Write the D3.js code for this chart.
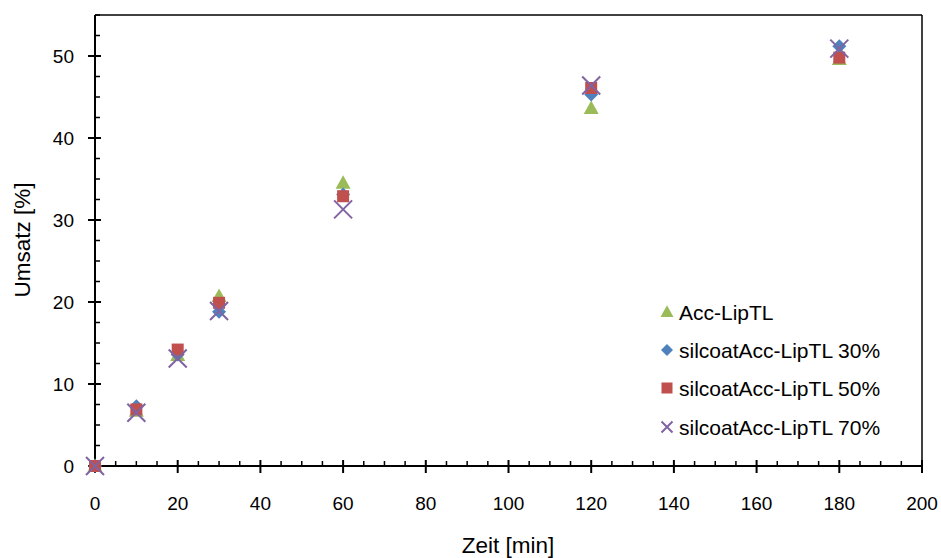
<!DOCTYPE html>
<html><head><meta charset="utf-8">
<script src="https://cdn.jsdelivr.net/npm/d3@7"></script>
<style>body{margin:0;background:#fff}text{font-family:"Liberation Sans",Arial,sans-serif;fill:#000}</style>
</head><body><svg id="c" width="941" height="558"></svg>
<script>
const times = [0, 10, 20, 30, 60, 120, 180];
const seriesNames = ["Acc-LipTL", "silcoatAcc-LipTL 30%", "silcoatAcc-LipTL 50%", "silcoatAcc-LipTL 70%"];
const accLipTL = [0, 6.7, 13.5, 20.7, 34.5, 43.6, 49.6];
const silcoat30 = [0, 7.3, 13.6, 18.8, 33.1, 45.3, 51.2];
const silcoat50 = [0, 6.9, 14.2, 19.9, 32.9, 46.1, 49.8];
const silcoat70 = [0, 6.5, 13.1, 18.9, 31.3, 46.4, 50.9];
const xTicks = [0, 20, 40, 60, 80, 100, 120, 140, 160, 180, 200];
const yTicks = [0, 10, 20, 30, 40, 50];
const colors = ["#9BBB59", "#4F81BD", "#C0504D", "#8064A2"];
const symbols = ["triangle", "diamond", "square", "cross"];

const svg = d3.select("#c");
const L = 95, R = 922, T = 15, B = 466;
const x = d3.scaleLinear().domain([0, 200]).range([L, R]);
const y = d3.scaleLinear().domain([0, 55]).range([B, T]);

// frame
svg.append("line").attr("x1", L).attr("x2", R).attr("y1", T).attr("y2", T).attr("stroke", "#000").attr("stroke-width", 1.5);
svg.append("line").attr("x1", R).attr("x2", R).attr("y1", T).attr("y2", B).attr("stroke", "#000").attr("stroke-width", 1.5);

// minor ticks
const xMinor = d3.range(0, 201, 5).filter(v => v % 20 !== 0);
const yMinor = d3.range(0, 55.1, 2.5).filter(v => v % 10 !== 0);
const g = svg.append("g").attr("stroke", "#000").attr("stroke-width", 1.5);
xMinor.forEach(v => g.append("line").attr("x1", x(v)).attr("x2", x(v)).attr("y1", B).attr("y2", B - 5));
yMinor.forEach(v => g.append("line").attr("x1", L).attr("x2", L + 5).attr("y1", y(v)).attr("y2", y(v)));
xTicks.forEach(v => g.append("line").attr("x1", x(v)).attr("x2", x(v)).attr("y1", B - 6).attr("y2", B + 7).attr("stroke-width", 2));
yTicks.forEach(v => g.append("line").attr("x1", L - 7).attr("x2", L + 6).attr("y1", y(v)).attr("y2", y(v)).attr("stroke-width", 2));

// axes lines
svg.append("line").attr("x1", L).attr("x2", R).attr("y1", B).attr("y2", B).attr("stroke", "#000").attr("stroke-width", 2);
svg.append("line").attr("x1", L).attr("x2", L).attr("y1", T).attr("y2", B).attr("stroke", "#000").attr("stroke-width", 2);

// tick labels
svg.selectAll(".xl").data(xTicks).enter().append("text").attr("x", d => x(d)).attr("y", 510)
  .attr("text-anchor", "middle").attr("font-size", 19).text(d => d);
svg.selectAll(".yl").data(yTicks).enter().append("text").attr("x", 74).attr("y", d => y(d) + 7)
  .attr("text-anchor", "end").attr("font-size", 19).text(d => d);

// axis titles
svg.append("text").attr("x", 508).attr("y", 553).attr("text-anchor", "middle").attr("font-size", 22.5).text("Zeit [min]");
svg.append("text").attr("transform", "translate(30,240) rotate(-90)").attr("text-anchor", "middle").attr("font-size", 22.5).text("Umsatz [%]");

function marker(sel, type, color, size) {
  const s = size;
  if (type === "cross") {
    sel.append("path").attr("d", `M${-s},${-s}L${s},${s}M${-s},${s}L${s},${-s}`)
      .attr("stroke", color).attr("stroke-width", 2).attr("fill", "none");
  } else if (type === "triangle") {
    sel.append("path").attr("d", `M0,${-s * 1.05}L${s},${s * 0.75}L${-s},${s * 0.75}Z`).attr("fill", color);
  } else if (type === "diamond") {
    sel.append("path").attr("d", `M0,${-s}L${s},0L0,${s}L${-s},0Z`).attr("fill", color);
  } else {
    sel.append("rect").attr("x", -s).attr("y", -s).attr("width", 2 * s).attr("height", 2 * s).attr("fill", color);
  }
}

const allSeries = [accLipTL, silcoat30, silcoat50, silcoat70];
const msize = [7.5, 7, 6, 9];
allSeries.forEach((vals, i) => {
  vals.forEach((v, j) => {
    const gg = svg.append("g").attr("transform", `translate(${x(times[j])},${y(v)})`);
    marker(gg, symbols[i], colors[i], msize[i]);
  });
});

// legend
const legY = [312, 350, 388, 427];
const lsize = [6.5, 6, 5.5, 5.5];
seriesNames.forEach((n, i) => {
  const gg = svg.append("g").attr("transform", `translate(667,${legY[i]})`);
  marker(gg, symbols[i], colors[i], lsize[i]);
  svg.append("text").attr("x", 679).attr("y", legY[i] + 7.5).attr("font-size", 21).text(n);
});
</script></body></html>
